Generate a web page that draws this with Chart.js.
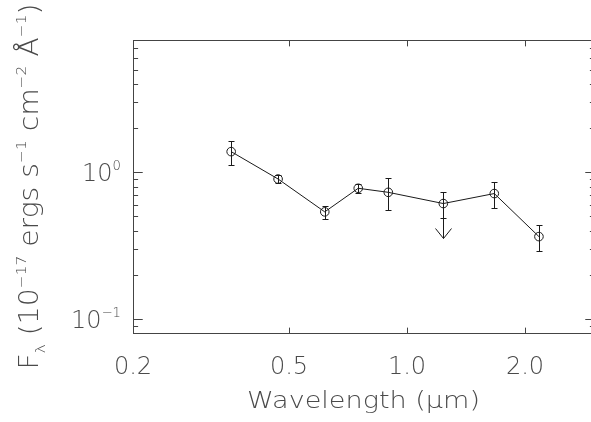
<!DOCTYPE html>
<html>
<head>
<meta charset="utf-8">
<script src="https://cdn.jsdelivr.net/npm/chart.js@4.4.1/dist/chart.umd.min.js"></script>
<style>
  html, body { margin: 0; padding: 0; background: #fff; overflow: hidden; }
  #wrap { width: 600px; height: 422px; position: relative; }
</style>
</head>
<body>
<div id="wrap"><canvas id="sed"></canvas></div>
<script>
// Broadband photometry: wavelength in micron, flux in 1e-17 erg/s/cm^2/A
const wavelength = [0.356, 0.469, 0.617, 0.751, 0.896, 1.238, 1.670, 2.171];
const flux       = [1.384, 0.900, 0.537, 0.778, 0.730, 0.612, 0.716, 0.364];
const fluxLow    = [1.129, 0.850, 0.480, 0.719, 0.553, 0.485, 0.568, 0.290];
const fluxHigh   = [1.636, 0.958, 0.589, 0.837, 0.913, 0.734, 0.855, 0.435];

// upper limit: which point, and where its arrow ends
const limitIndex = [5];
const limitTo    = [0.358];

// axis ranges and ticks
const xRange = [0.2, 3.0];
const yRange = [0.08, 8];
const xTicks = [0.2, 0.5, 1.0, 2.0];
const xTickLabels = ['0.2', '0.5', '1.0', '2.0'];
const yMajor = [0.1, 1];
const yMajorExp = ['\u22121', '0'];
const yMinor = [0.09, 0.2, 0.3, 0.4, 0.5, 0.6, 0.7, 0.8, 0.9, 2, 3, 4, 5, 6, 7];

const FACE = '"DejaVu Sans ExtraLight", "DejaVu Sans", sans-serif';
const INK = '#1a1a1a';
const TEXT = '#4a4a4a';

function font(size) {
    return '200 ' + size + 'px ' + FACE;
}

// text with super/subscripts: parts = [[text, kind], ...]
function richWidth(ctx, parts, size) {
    let w = 0;
    parts.forEach(([t, k]) => {
        ctx.font = font(k ? size * 0.55 : size);
        w += ctx.measureText(t).width;
    });
    return w;
}

function drawRich(ctx, parts, x, y, size) {
    let cx = x;
    parts.forEach(([t, k]) => {
        const s = k ? size * 0.55 : size;
        let dy = 0;
        if (k === 'sup') dy = -size * 0.46;
        if (k === 'sub') dy = size * 0.28;
        ctx.font = font(s);
        ctx.fillText(t, cx, y + dy);
        cx += ctx.measureText(t).width;
    });
}

// draw rich text centred on (x, y) and stretched to a given length
function drawFitted(ctx, parts, x, y, size, length) {
    const w = richWidth(ctx, parts, size);
    ctx.save();
    ctx.translate(x, y);
    ctx.scale(length / w, 1);
    ctx.textAlign = 'left';
    drawRich(ctx, parts, -w / 2, 0, size);
    ctx.restore();
}

const frame = {
    id: 'frame',
    afterDatasetsDraw(chart) {
        const { ctx, chartArea: a, scales: { x, y } } = chart;
        const px = v => Math.round(x.getPixelForValue(v)) + 0.5;
        const py = v => Math.round(y.getPixelForValue(v)) + 0.5;
        ctx.save();
        ctx.strokeStyle = INK;
        ctx.lineWidth = 1;

        // error bars
        ctx.beginPath();
        wavelength.forEach((w, i) => {
            const cx = px(w), t = py(fluxHigh[i]), b = py(fluxLow[i]);
            ctx.moveTo(cx, t); ctx.lineTo(cx, b);
            ctx.moveTo(cx - 3, t); ctx.lineTo(cx + 3, t);
            ctx.moveTo(cx - 3, b); ctx.lineTo(cx + 3, b);
        });
        ctx.stroke();

        // upper limit arrows
        ctx.beginPath();
        limitIndex.forEach((i, k) => {
            const cx = px(wavelength[i]), y0 = py(flux[i]), y1 = py(limitTo[k]);
            ctx.moveTo(cx, y0); ctx.lineTo(cx, y1);
            ctx.moveTo(cx - 8, y1 - 10); ctx.lineTo(cx, y1); ctx.lineTo(cx + 8, y1 - 10);
        });
        ctx.stroke();

        // box
        const L = Math.round(a.left) + 0.5, R = Math.round(a.right) + 0.5;
        const T = Math.round(a.top) + 0.5, B = Math.round(a.bottom) + 0.5;
        ctx.strokeStyle = '#444';
        ctx.strokeRect(L, T, R - L, B - T);

        // ticks point inwards on all four sides
        const xLen = 0.02 * (a.bottom - a.top);
        const yLen = 0.02 * (a.right - a.left);
        ctx.beginPath();
        xTicks.forEach(v => {
            const cx = px(v);
            ctx.moveTo(cx, B); ctx.lineTo(cx, B - xLen);
            ctx.moveTo(cx, T); ctx.lineTo(cx, T + xLen);
        });
        yMajor.forEach(v => {
            const cy = py(v);
            ctx.moveTo(L, cy); ctx.lineTo(L + yLen, cy);
            ctx.moveTo(R, cy); ctx.lineTo(R - yLen, cy);
        });
        yMinor.forEach(v => {
            const cy = py(v);
            ctx.moveTo(L, cy); ctx.lineTo(L + yLen / 2, cy);
            ctx.moveTo(R, cy); ctx.lineTo(R - yLen / 2, cy);
        });
        ctx.stroke();

        // tick labels
        ctx.fillStyle = TEXT;
        ctx.textBaseline = 'alphabetic';
        ctx.font = font(24);
        ctx.textAlign = 'center';
        xTicks.forEach((v, i) => {
            ctx.fillText(xTickLabels[i], x.getPixelForValue(v), a.bottom + 41);
        });
        ctx.textAlign = 'left';
        yMajor.forEach((v, i) => {
            const parts = [['10', ''], [yMajorExp[i], 'sup']];
            const w = richWidth(ctx, parts, 24);
            drawRich(ctx, parts, a.left - 12 - w, y.getPixelForValue(v) + 9, 24);
        });

        // axis titles
        const midX = (a.left + a.right) / 2;
        const midY = (a.top + a.bottom) / 2;
        drawFitted(ctx, [['Wavelength (\u03bcm)', '']], midX, a.bottom + 75, 23, 233);

        ctx.save();
        ctx.translate(37.5, midY);
        ctx.rotate(-Math.PI / 2);
        drawFitted(ctx, [
            ['F', ''], ['\u03bb', 'sub'], [' (10', ''], ['\u221217', 'sup'],
            [' ergs s', ''], ['\u22121', 'sup'], [' cm', ''], ['\u22122', 'sup'],
            [' \u00c5', ''], ['\u22121', 'sup'], [')', '']
        ], 0, 0, 26, 366);
        ctx.restore();

        ctx.restore();
    }
};

new Chart(document.getElementById('sed'), {
    type: 'line',
    data: {
        datasets: [{
            data: wavelength.map((w, i) => ({ x: w, y: flux[i] })),
            borderColor: INK,
            borderWidth: 1,
            tension: 0,
            pointRadius: 4.3,
            pointBorderWidth: 1,
            pointBorderColor: INK,
            pointBackgroundColor: 'rgba(0,0,0,0)'
        }]
    },
    options: {
        responsive: true,
        maintainAspectRatio: false,
        animation: false,
        layout: { padding: { left: 133, top: 40, right: 6, bottom: 89 } },
        plugins: { legend: { display: false }, tooltip: { enabled: false } },
        scales: {
            x: { type: 'logarithmic', min: xRange[0], max: xRange[1], display: false },
            y: { type: 'logarithmic', min: yRange[0], max: yRange[1], display: false }
        }
    },
    plugins: [frame]
});
</script>
</body>
</html>
